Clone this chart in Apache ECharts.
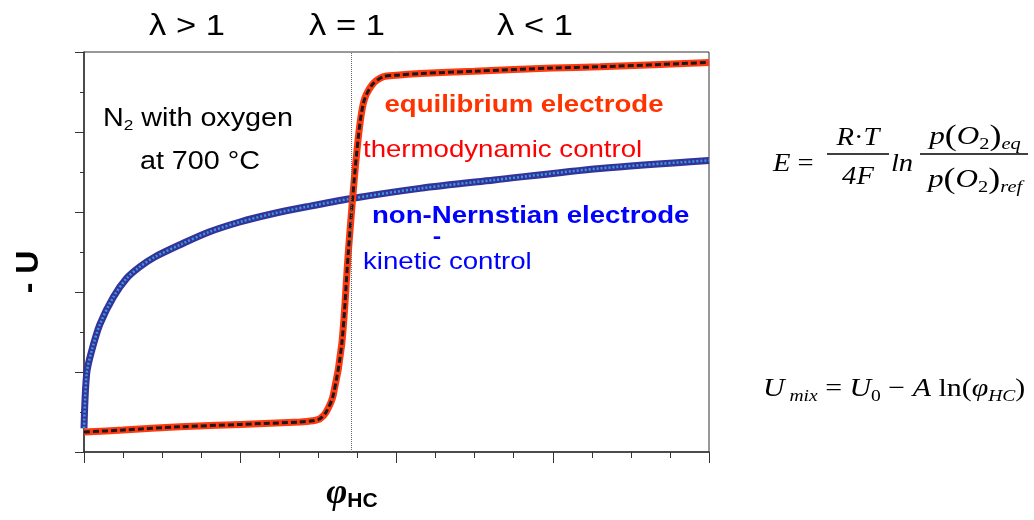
<!DOCTYPE html>
<html>
<head>
<meta charset="utf-8">
<script src="https://cdn.jsdelivr.net/npm/echarts@6/dist/echarts.min.js"></script>
<style>
  html, body { margin: 0; padding: 0; background: #fff; }
  #chart { width: 1034px; height: 520px; }
</style>
</head>
<body>
<div id="chart"></div>
<script>
// equilibrium (Nernstian) electrode
const eqX = [0, 1, 2.46, 4, 5.53, 5.85, 6.04, 6.2, 6.38, 6.6, 6.77, 6.98, 7.15, 7.37, 7.66, 8.0, 8.6, 10, 12, 13.21, 16];
const eqY = [0.5, 0.55, 0.63, 0.69, 0.75, 0.78, 0.83, 1.0, 1.42, 2.71, 5.04, 7.46, 8.71, 9.17, 9.38, 9.42, 9.46, 9.52, 9.6, 9.63, 9.74];
// non-Nernstian electrode
const nnX = [0, 0.07, 0.2, 0.41, 0.75, 1.09, 1.43, 1.8, 2.5, 3.2, 3.99, 4.8, 5.7, 6.81, 8.6, 10.5, 13.21, 16];
const nnY = [0.59, 1.97, 2.54, 3.2, 3.87, 4.34, 4.63, 4.87, 5.2, 5.5, 5.75, 5.95, 6.13, 6.33, 6.59, 6.8, 7.09, 7.29];
// lambda = 1 position
const lambdaOneX = 6.84;
const regionLabels = ['λ > 1', 'λ = 1', 'λ < 1'];

const pairs = (xs, ys) => xs.map((x, i) => [x, ys[i]]);

const chart = echarts.init(document.getElementById('chart'));

const sans = '"Liberation Sans", Arial, sans-serif';
const serif = '"Liberation Serif", "Times New Roman", serif';
const stretch = 1.15; // the picture's text is a bit wider than the font

function txt(text, x, y, font, fill, align, extra) {
    return Object.assign({
        type: 'text', x: x, y: y, z: 100, scaleX: stretch,
        style: { text: text, font: font, fill: fill, align: align || 'center', verticalAlign: 'middle' }
    }, extra || {});
}

const formulaRich = {
    i: { fontFamily: serif, fontStyle: 'italic', fontSize: 26, lineHeight: 32, fill: '#000' },
    n: { fontFamily: serif, fontSize: 26, lineHeight: 32, fill: '#000' },
    b: { fontFamily: serif, fontSize: 30, lineHeight: 32, fill: '#000' },
    s: { fontFamily: serif, fontSize: 17, lineHeight: 32, verticalAlign: 'bottom', fill: '#000' },
    si: { fontFamily: serif, fontStyle: 'italic', fontSize: 17, lineHeight: 32, verticalAlign: 'bottom', fill: '#000' }
};

function rich(text, x, y, align, sx) {
    return {
        type: 'text', x: x, y: y, z: 100, scaleX: sx || 1.1,
        style: { text: text, rich: formulaRich, align: align || 'center', verticalAlign: 'middle' }
    };
}

chart.setOption({
    animation: false,
    backgroundColor: '#fff',
    grid: {
        left: 84, right: 325, top: 52, bottom: 68,
        show: true, borderColor: '#333', borderWidth: 1
    },
    xAxis: {
        type: 'value', min: 0, max: 16, interval: 4,
        axisLine: { lineStyle: { color: '#333', width: 1.5 } },
        axisTick: { length: 11, lineStyle: { color: '#333' } },
        minorTick: { show: true, splitNumber: 4, length: 6, lineStyle: { color: '#333' } },
        axisLabel: { show: false },
        splitLine: { show: false }
    },
    yAxis: {
        type: 'value', min: 0, max: 10, interval: 2,
        axisLine: { show: true, lineStyle: { color: '#333', width: 1.5 } },
        axisTick: { show: true, length: 9, lineStyle: { color: '#333' } },
        minorTick: { show: true, splitNumber: 2, length: 4, lineStyle: { color: '#333' } },
        axisLabel: { show: false },
        splitLine: { show: false }
    },
    series: [
        {
            name: 'non-Nernstian', type: 'line', data: pairs(nnX, nnY),
            smooth: 0.3, symbol: 'none',
            lineStyle: { color: '#33339c', width: 7 },
            markLine: {
                silent: true, symbol: 'none', label: { show: false },
                lineStyle: { color: '#666', type: 'dotted', width: 1 },
                data: [{ xAxis: lambdaOneX }]
            }
        },
        {
            name: 'non-Nernstian dash', type: 'line', data: pairs(nnX, nnY),
            smooth: 0.3, symbol: 'none',
            lineStyle: { color: '#3a9ad6', width: 2.5, type: [2, 2] }
        },
        {
            name: 'equilibrium', type: 'line', data: pairs(eqX, eqY),
            smooth: 0.3, symbol: 'none',
            lineStyle: { color: '#ff3a10', width: 7 }
        },
        {
            name: 'equilibrium dash', type: 'line', data: pairs(eqX, eqY),
            smooth: 0.3, symbol: 'none',
            lineStyle: { color: '#1a1a1a', width: 3, type: [6, 3] }
        }
    ],
    graphic: [
        txt(regionLabels[0], 187, 27, '30px ' + sans, '#000'),
        txt(regionLabels[1], 347, 27, '30px ' + sans, '#000'),
        txt(regionLabels[2], 535, 27, '30px ' + sans, '#000'),

        {
            type: 'text', x: 198, y: 119, z: 100, scaleX: stretch,
            style: {
                text: '{a|N}{b|2}{a| with oxygen}',
                align: 'center', verticalAlign: 'middle',
                rich: {
                    a: { fontFamily: sans, fontSize: 25, lineHeight: 28, fill: '#000' },
                    b: { fontFamily: sans, fontSize: 15, lineHeight: 28, verticalAlign: 'bottom', fill: '#000' }
                }
            }
        },
        txt('at 700 °C', 200, 162, '25px ' + sans, '#000'),

        txt('equilibrium electrode', 524, 105, 'bold 24px ' + sans, '#ff3300'),
        txt('thermodynamic control', 363, 150, '24px ' + sans, '#ff0000', 'left'),
        txt('non-Nernstian electrode', 372, 216, 'bold 24px ' + sans, '#0000ff', 'left'),
        txt('-', 437, 237, 'bold 22px ' + sans, '#0000ff'),
        txt('kinetic control', 363, 262, '24px ' + sans, '#0000ff', 'left'),

        txt('- U', 29, 272, 'bold 32px ' + sans, '#000', 'center', { rotation: Math.PI / 2, scaleX: 1 }),

        {
            type: 'text', x: 352, y: 494, z: 100,
            style: {
                text: '{p|φ}{h|HC}',
                align: 'center', verticalAlign: 'middle',
                rich: {
                    p: { fontFamily: serif, fontStyle: 'italic', fontWeight: 'bold', fontSize: 36, lineHeight: 36, fill: '#000' },
                    h: { fontFamily: sans, fontWeight: 'bold', fontSize: 21, lineHeight: 36, verticalAlign: 'bottom', fill: '#000' }
                }
            }
        },

        // Nernst equation
        rich('{i|E}{n| =}', 773, 164, 'left'),
        rich('{i|R}{n|·}{i|T}', 858, 138),
        { type: 'line', z: 100, shape: { x1: 827, y1: 154, x2: 889, y2: 154 }, style: { stroke: '#000', lineWidth: 1.3 } },
        rich('{i|4F}', 858, 177),
        rich('{i|ln}', 902, 164),
        rich('{i|p}{b|(}{i|O}{s|2}{b|)}{si|eq}', 975, 137, 'center', 1.2),
        { type: 'line', z: 100, shape: { x1: 920, y1: 154, x2: 1028, y2: 154 }, style: { stroke: '#000', lineWidth: 1.3 } },
        rich('{i|p}{b|(}{i|O}{s|2}{b|)}{si|ref}', 975, 180, 'center', 1.2),

        // mixed potential
        rich('{i|U}{si| mix}{n| = }{i|U}{s|0}{n| − }{i|A}{n| ln(}{i|φ}{si|HC}{n|)}', 763, 389, 'left', 1.15)
    ]
});
</script>
</body>
</html>
